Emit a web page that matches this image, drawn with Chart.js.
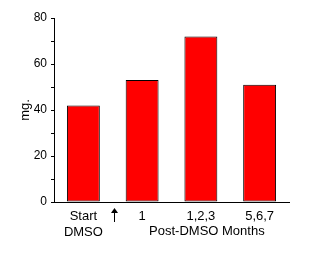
<!DOCTYPE html>
<html>
<head>
<meta charset="utf-8">
<script src="https://cdn.jsdelivr.net/npm/chart.js@4/dist/chart.umd.min.js"></script>
<style>
  body { margin: 0; background: #fff; }
  #wrap { width: 319px; height: 254px; }
</style>
</head>
<body>
<div id="wrap"><canvas id="myChart"></canvas></div>
<script>
var categories = [['Start', 'DMSO'], '1', '1,2,3', '5,6,7'];
var weights = [42, 53, 72, 51];
var yMin = 0, yMax = 80, yStep = 10;
var xTitle = 'Post-DMSO Months';
var yTitle = 'mg.';

var fontFamily = '"Liberation Sans", Arial, sans-serif';

// arrow between "Start" and the first month, plus the x title under the months
var extras = {
    id: 'extras',
    afterDraw: function (chart) {
        var x = chart.scales.x;
        var c = chart.ctx;
        var ax = Math.round((x.getPixelForValue(0) + x.getPixelForValue(1)) / 2) + 1.5;
        var top = x.top + 6;
        c.save();
        c.fillStyle = '#000';
        c.strokeStyle = '#000';
        c.lineWidth = 1;
        c.beginPath();
        c.moveTo(ax, top);
        c.lineTo(ax - 3.5, top + 5);
        c.lineTo(ax + 3.5, top + 5);
        c.closePath();
        c.fill();
        c.beginPath();
        c.moveTo(ax, top + 4);
        c.lineTo(ax, top + 14);
        c.stroke();

        c.font = '13px ' + fontFamily;
        c.textAlign = 'center';
        c.textBaseline = 'top';
        c.fillText(xTitle, x.getPixelForValue(2) + 6, x.top + 23);
        c.restore();
    }
};

var ctx = document.getElementById('myChart').getContext('2d');
var myBarChart = new Chart(ctx, {
    type: 'bar',
    data: {
        labels: categories,
        datasets: [{
            data: weights,
            backgroundColor: '#ff0000',
            borderColor: '#000',
            borderWidth: 1,
            borderSkipped: false,
            barPercentage: 0.56,
            categoryPercentage: 1
        }]
    },
    options: {
        responsive: true,
        maintainAspectRatio: false,
        animation: false,
        layout: {
            padding: { left: 0, right: 30, top: 18, bottom: 0 }
        },
        plugins: {
            legend: { display: false },
            tooltip: { enabled: false }
        },
        scales: {
            x: {
                grid: { display: false, drawTicks: false },
                border: { color: '#000', width: 1 },
                ticks: {
                    color: '#000',
                    padding: 6,
                    autoSkip: false,
                    maxRotation: 0,
                    font: { family: fontFamily, size: 13, lineHeight: 1.25 }
                },
                afterFit: function (s) { s.height = 52; }
            },
            y: {
                min: yMin,
                max: yMax,
                grid: {
                    drawOnChartArea: false,
                    drawTicks: true,
                    tickLength: 3,
                    color: '#000'
                },
                border: { color: '#000', width: 1 },
                ticks: {
                    stepSize: yStep,
                    color: '#000',
                    padding: 4,
                    font: { family: fontFamily, size: 12 },
                    callback: function (v) { return v % 20 === 0 ? v : ''; }
                },
                title: {
                    display: true,
                    text: yTitle,
                    color: '#000',
                    padding: { top: 18, bottom: 0 },
                    font: { family: fontFamily, size: 13 }
                },
                afterFit: function (s) { s.width = 54; }
            }
        }
    },
    plugins: [extras]
});
</script>
</body>
</html>
